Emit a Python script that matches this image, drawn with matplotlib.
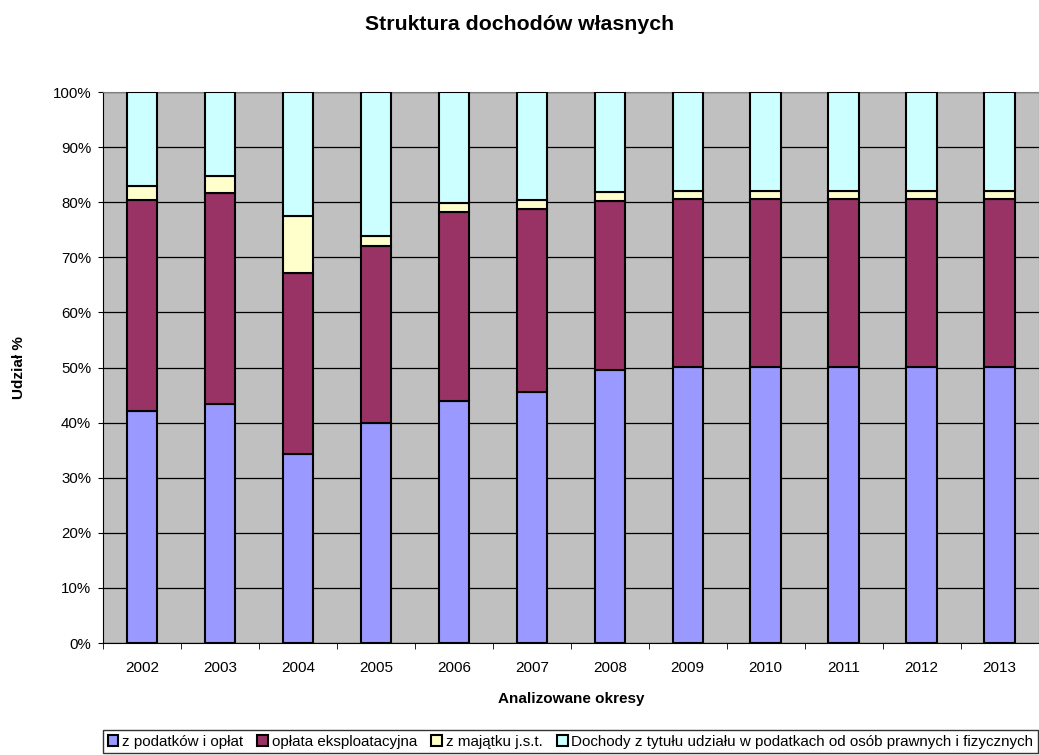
import matplotlib.pyplot as plt
import numpy as np
from matplotlib.ticker import FixedLocator, PercentFormatter

plt.rcParams['font.family'] = ['Liberation Sans', 'DejaVu Sans']

# Dane (udział %)
lata = ['2002', '2003', '2004', '2005', '2006', '2007', '2008', '2009', '2010', '2011', '2012', '2013']
podatki = [42.1, 43.3, 34.3, 40.0, 43.9, 45.6, 49.5, 50.1, 50.1, 50.1, 50.1, 50.1]
oplata = [38.3, 38.4, 32.8, 32.1, 34.3, 33.1, 30.8, 30.4, 30.4, 30.4, 30.4, 30.4]
majatek = [2.6, 3.0, 10.4, 1.8, 1.7, 1.7, 1.5, 1.6, 1.6, 1.6, 1.6, 1.6]
udzialy = [17.0, 15.3, 22.5, 26.1, 20.1, 19.6, 18.2, 17.9, 17.9, 17.9, 17.9, 17.9]

serie = [podatki, oplata, majatek, udzialy]
nazwy = ['z podatków i opłat', 'opłata eksploatacyjna', 'z majątku j.s.t.',
         'Dochody z tytułu udziału w podatkach od osób prawnych i fizycznych']
kolory = ['#9999FF', '#993366', '#FFFFCC', '#CCFFFF']

fig = plt.figure(figsize=(10.39, 7.55), dpi=100)
ax = fig.add_axes([0.0991, 0.1483, 0.9005, 0.7298])
ax.set_facecolor('#C0C0C0')

x = np.arange(len(lata))
dol = np.zeros(len(lata))
for wart, nazwa, kolor in zip(serie, nazwy, kolory):
    wart = np.array(wart, dtype=float)
    ax.bar(x, wart, 0.39, bottom=dol, color=kolor, edgecolor='black',
           linewidth=1.5, label=nazwa, zorder=3)
    dol += wart

ax.set_ylim(0, 100)
ax.set_xlim(-0.5, len(lata) - 0.5)
ax.yaxis.set_major_locator(FixedLocator(np.arange(0, 101, 10)))
ax.yaxis.set_major_formatter(PercentFormatter(decimals=0))
ax.grid(axis='y', color='black', linewidth=0.9, zorder=1)

ax.set_xticks(x)
ax.set_xticklabels(lata)
ax.set_xticks(np.arange(-0.5, len(lata)), minor=True)
ax.tick_params(axis='x', which='major', length=0, pad=13, labelsize=11)
ax.tick_params(axis='x', which='minor', length=4, direction='out')
ax.tick_params(axis='y', length=3.5, direction='out', pad=5, labelsize=10.8)

for s in ['top', 'right']:
    ax.spines[s].set_color('#808080')
ax.spines['left'].set_color('black')
ax.spines['bottom'].set_color('black')

ax.set_xlabel('Analizowane okresy', fontsize=11, fontweight='bold', labelpad=12)
ax.set_ylabel('Udział %', fontsize=11, fontweight='bold', labelpad=19)
fig.suptitle('Struktura dochodów własnych', fontsize=15.3, fontweight='bold', y=0.98)

leg = fig.legend(loc='upper left', bbox_to_anchor=(103 / 1039, 1 - 730 / 755), ncol=4,
                 fontsize=10.9, frameon=True, fancybox=False, edgecolor='black',
                 handlelength=0.7, handleheight=0.7, handletextpad=0.25,
                 columnspacing=0.95, borderpad=0.3, borderaxespad=0)
leg.get_frame().set_linewidth(1.0)

fig.savefig('out.png', dpi=100)
